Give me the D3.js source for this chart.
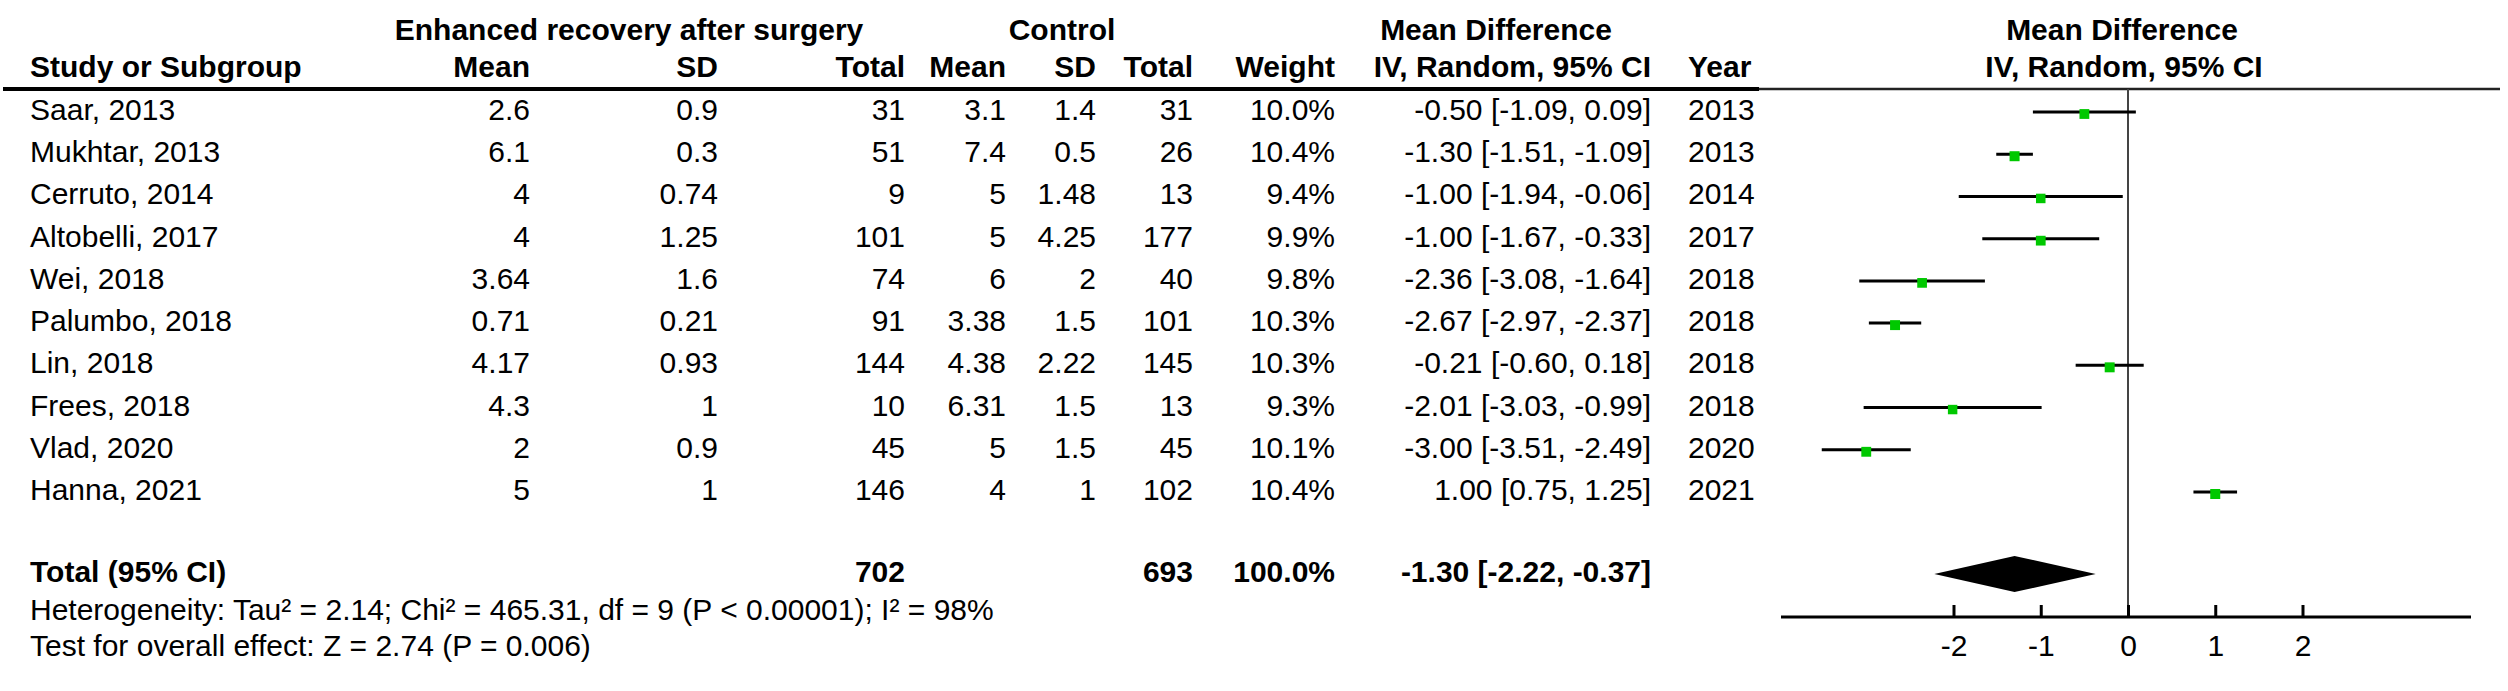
<!DOCTYPE html>
<html>
<head>
<meta charset="utf-8">
<script src="https://cdn.jsdelivr.net/npm/d3@7"></script>
<style>
  html, body { margin: 0; padding: 0; background: #fff; }
  svg { display: block; }
  text { font-family: "Liberation Sans", Arial, sans-serif; fill: #000; }
</style>
</head>
<body>
<svg id="chart" width="2508" height="691"></svg>
<script>
// ---- data ----
const studies   = ["Saar, 2013", "Mukhtar, 2013", "Cerruto, 2014", "Altobelli, 2017", "Wei, 2018",
                   "Palumbo, 2018", "Lin, 2018", "Frees, 2018", "Vlad, 2020", "Hanna, 2021"];
const erasMean  = [2.6, 6.1, 4, 4, 3.64, 0.71, 4.17, 4.3, 2, 5];
const erasSD    = [0.9, 0.3, 0.74, 1.25, 1.6, 0.21, 0.93, 1, 0.9, 1];
const erasTotal = [31, 51, 9, 101, 74, 91, 144, 10, 45, 146];
const ctrlMean  = [3.1, 7.4, 5, 5, 6, 3.38, 4.38, 6.31, 5, 4];
const ctrlSD    = [1.4, 0.5, 1.48, 4.25, 2, 1.5, 2.22, 1.5, 1.5, 1];
const ctrlTotal = [31, 26, 13, 177, 40, 101, 145, 13, 45, 102];
const weights   = [10.0, 10.4, 9.4, 9.9, 9.8, 10.3, 10.3, 9.3, 10.1, 10.4];
const md        = [-0.50, -1.30, -1.00, -1.00, -2.36, -2.67, -0.21, -2.01, -3.00, 1.00];
const ciLow     = [-1.09, -1.51, -1.94, -1.67, -3.08, -2.97, -0.60, -3.03, -3.51, 0.75];
const ciHigh    = [0.09, -1.09, -0.06, -0.33, -1.64, -2.37, 0.18, -0.99, -2.49, 1.25];
const years     = [2013, 2013, 2014, 2017, 2018, 2018, 2018, 2018, 2020, 2021];
const total     = { erasN: 702, ctrlN: 693, weight: 100.0, md: -1.30, lo: -2.22, hi: -0.37 };
const xTicks    = [-2, -1, 0, 1, 2];
const heterogeneity = "Heterogeneity: Tau\u00B2 = 2.14; Chi\u00B2 = 465.31, df = 9 (P < 0.00001); I\u00B2 = 98%";
const overallTest   = "Test for overall effect: Z = 2.74 (P = 0.006)";

// ---- layout ----
const svg = d3.select("#chart");
const FS = 30;
const x = d3.scaleLinear().domain([-4, 4]).range([1779, 2477]);
const rowY = d3.scaleLinear().domain([0, studies.length - 1]).range([112, 492]);
const sq = d3.scaleSqrt().domain([0, 10.4]).range([0, 10]);
const headerLineY = 89, totalY = 574, axisY = 617;

const cols = {
  study: 30, eMean: 530, eSD: 718, eTot: 905, cMean: 1006, cSD: 1096, cTot: 1193,
  weight: 1335, md: 1651, year: 1688
};

function txt(xp, yp, s, anchor, bold) {
  return svg.append("text").attr("x", xp).attr("y", yp)
    .attr("text-anchor", anchor || "start")
    .attr("font-size", FS)
    .attr("font-weight", bold ? "bold" : "normal")
    .text(s);
}

// headers
txt(629, 40, "Enhanced recovery after surgery", "middle", true);
txt(1062, 40, "Control", "middle", true);
txt(1496, 40, "Mean Difference", "middle", true);
txt(2122, 40, "Mean Difference", "middle", true);

txt(cols.study, 77, "Study or Subgroup", "start", true);
txt(cols.eMean, 77, "Mean", "end", true);
txt(cols.eSD, 77, "SD", "end", true);
txt(cols.eTot, 77, "Total", "end", true);
txt(cols.cMean, 77, "Mean", "end", true);
txt(cols.cSD, 77, "SD", "end", true);
txt(cols.cTot, 77, "Total", "end", true);
txt(cols.weight, 77, "Weight", "end", true);
txt(cols.md, 77, "IV, Random, 95% CI", "end", true);
txt(cols.year, 77, "Year", "start", true);
txt(2124, 77, "IV, Random, 95% CI", "middle", true);

// header rules
svg.append("line").attr("x1", 3).attr("x2", 1759).attr("y1", headerLineY).attr("y2", headerLineY)
  .attr("stroke", "#000").attr("stroke-width", 4);
svg.append("line").attr("x1", 1759).attr("x2", 2500).attr("y1", headerLineY).attr("y2", headerLineY)
  .attr("stroke", "#222").attr("stroke-width", 2.5);

// study rows
studies.forEach((s, i) => {
  const yb = rowY(i) + 8;
  txt(cols.study, yb, s, "start");
  txt(cols.eMean, yb, String(erasMean[i]), "end");
  txt(cols.eSD, yb, String(erasSD[i]), "end");
  txt(cols.eTot, yb, String(erasTotal[i]), "end");
  txt(cols.cMean, yb, String(ctrlMean[i]), "end");
  txt(cols.cSD, yb, String(ctrlSD[i]), "end");
  txt(cols.cTot, yb, String(ctrlTotal[i]), "end");
  txt(cols.weight, yb, weights[i].toFixed(1) + "%", "end");
  txt(cols.md, yb, md[i].toFixed(2) + " [" + ciLow[i].toFixed(2) + ", " + ciHigh[i].toFixed(2) + "]", "end");
  txt(cols.year, yb, String(years[i]), "start");
});

// total row
const tb = totalY + 8;
txt(cols.study, tb, "Total (95% CI)", "start", true);
txt(cols.eTot, tb, String(total.erasN), "end", true);
txt(cols.cTot, tb, String(total.ctrlN), "end", true);
txt(cols.weight, tb, total.weight.toFixed(1) + "%", "end", true);
txt(cols.md, tb, total.md.toFixed(2) + " [" + total.lo.toFixed(2) + ", " + total.hi.toFixed(2) + "]", "end", true);

// footnotes
txt(cols.study, 620, heterogeneity, "start");
txt(cols.study, 656, overallTest, "start");

// zero line
svg.append("line").attr("x1", x(0)).attr("x2", x(0)).attr("y1", headerLineY).attr("y2", axisY)
  .attr("stroke", "#444").attr("stroke-width", 2);

// CI lines
svg.append("g").selectAll("line").data(studies).join("line")
  .attr("x1", (d, i) => x(ciLow[i])).attr("x2", (d, i) => x(ciHigh[i]))
  .attr("y1", (d, i) => rowY(i)).attr("y2", (d, i) => rowY(i))
  .attr("stroke", "#000").attr("stroke-width", 3);

// squares
svg.append("g").selectAll("rect").data(studies).join("rect")
  .attr("x", (d, i) => x(md[i]) - sq(weights[i]) / 2)
  .attr("y", (d, i) => rowY(i) - sq(weights[i]) / 2 + 2)
  .attr("width", (d, i) => sq(weights[i]))
  .attr("height", (d, i) => sq(weights[i]))
  .attr("fill", "#00c800");

// diamond
const dh = 18;
svg.append("path")
  .attr("d", `M${x(total.lo)},${totalY} L${x(total.md)},${totalY - dh} L${x(total.hi)},${totalY} L${x(total.md)},${totalY + dh} Z`)
  .attr("fill", "#000");

// axis
const axis = d3.axisBottom(x).tickValues(xTicks).tickSize(0).tickFormat(d3.format("d"));
const ag = svg.append("g").attr("transform", `translate(0,${axisY})`).call(axis);
ag.select(".domain").remove();
ag.selectAll("text").attr("font-size", FS).attr("font-family", "Liberation Sans, Arial, sans-serif")
  .attr("fill", "#000").attr("dy", null).attr("y", 39);
ag.append("line").attr("x1", 1781).attr("x2", 2471).attr("y1", 0).attr("y2", 0)
  .attr("stroke", "#000").attr("stroke-width", 3);
ag.selectAll(".tick").append("line").attr("x1", 0).attr("x2", 0).attr("y1", -12).attr("y2", 0)
  .attr("stroke", "#000").attr("stroke-width", 3);
ag.selectAll(".tick text").text(d => d < 0 ? "-" + Math.abs(d) : String(d));
</script>
</body>
</html>
